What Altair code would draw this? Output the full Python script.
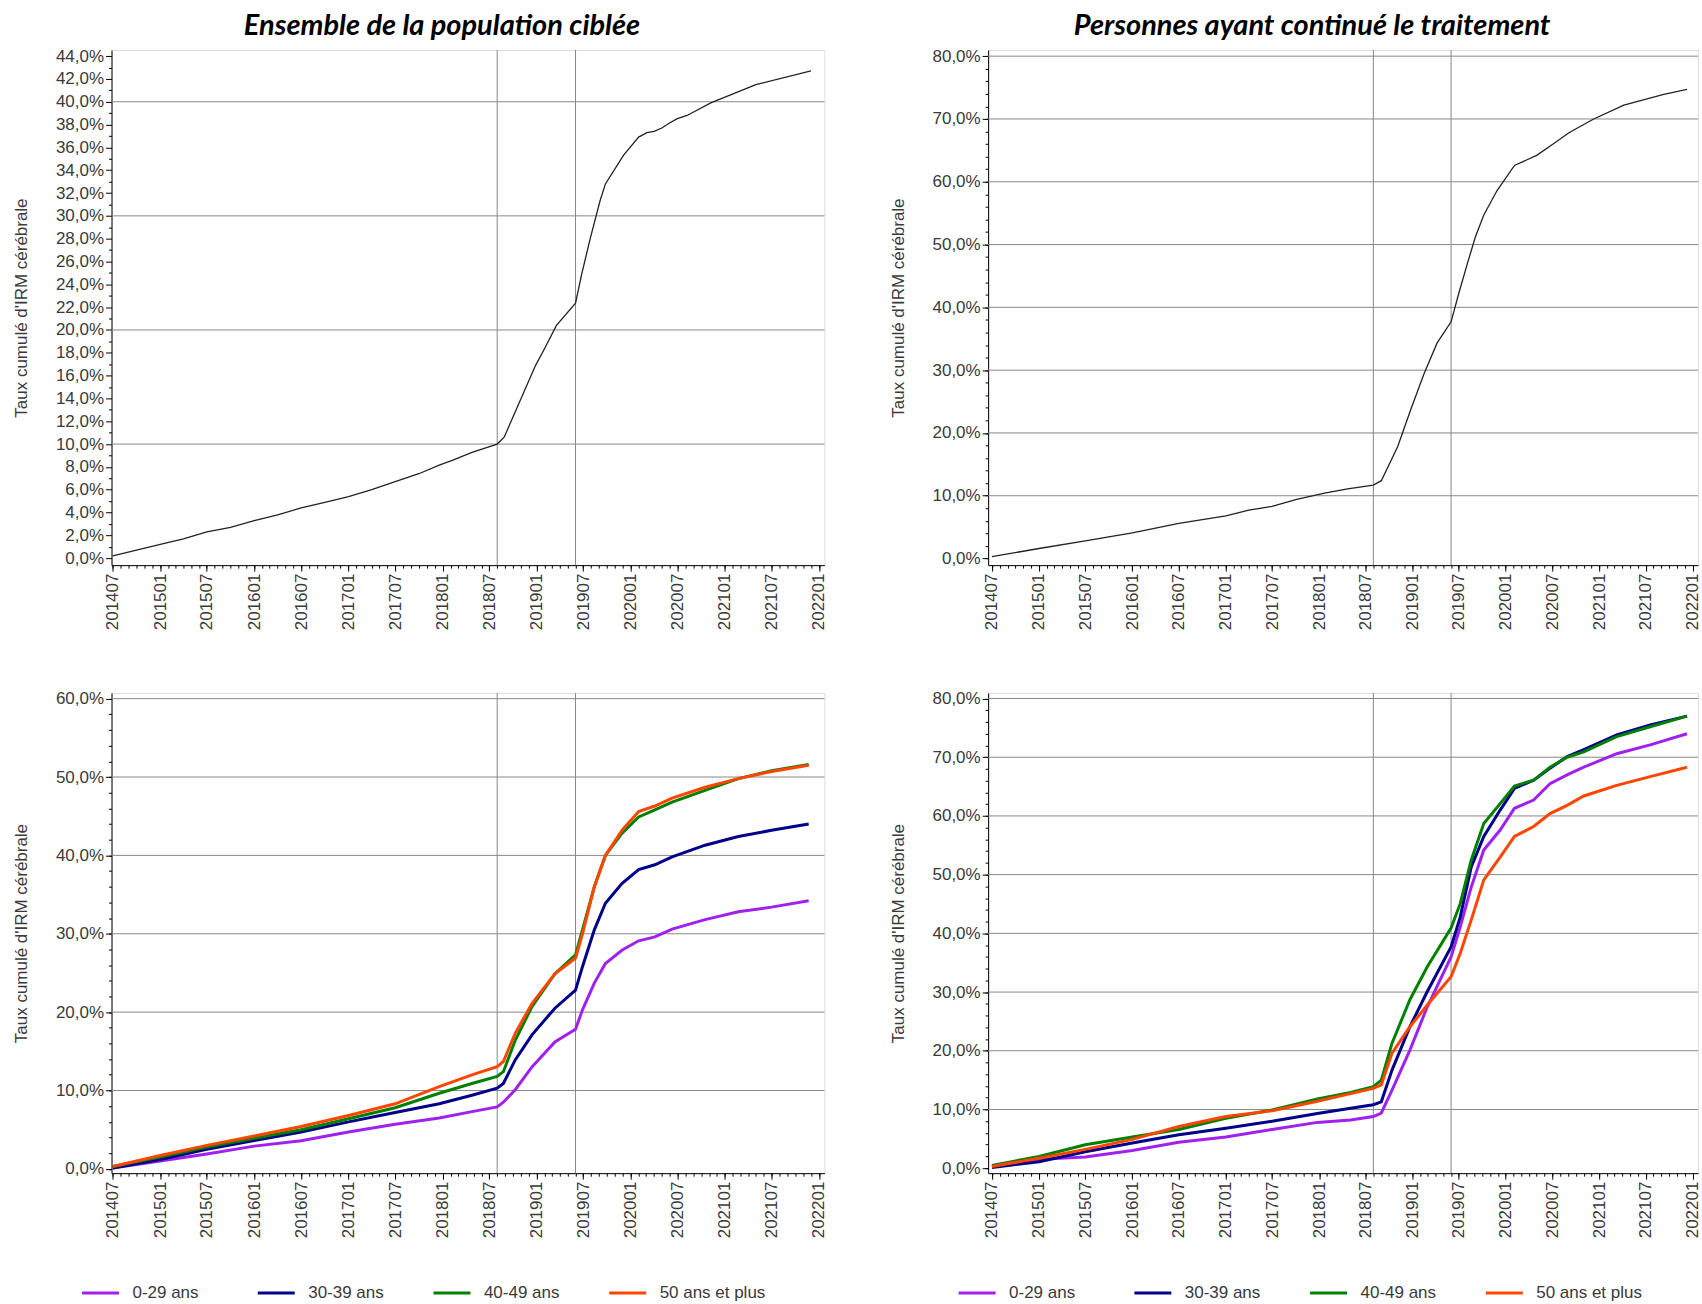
import altair as alt
import pandas as pd

FONT = "Liberation Sans"
TITLE_FONT = "Lato"
TXT = "#3a3a3a"
GRID = "#888888"
AX = "#000000"

AGE_GROUPS = ["0-29 ans", "30-39 ans", "40-49 ans", "50 ans et plus"]
AGE_COLORS = ["#A020F0", "#00008B", "#008000", "#FF4500"]

MARKER_DATES = ["2018-08-01", "2019-06-01"]

X_MAJOR = ["2014-07-01", "2015-01-01", "2015-07-01", "2016-01-01", "2016-07-01",
           "2017-01-01", "2017-07-01", "2018-01-01", "2018-07-01", "2019-01-01",
           "2019-07-01", "2020-01-01", "2020-07-01", "2021-01-01", "2021-07-01",
           "2022-01-01"]

# ---------------- Top-left : Ensemble de la population ciblée ----------------
TL_DATES = ["2014-07-01", "2014-10-01", "2015-01-01", "2015-04-01", "2015-07-01",
            "2015-10-01", "2016-01-01", "2016-04-01", "2016-07-01", "2016-10-01",
            "2017-01-01", "2017-04-01", "2017-07-01", "2017-10-01", "2017-12-19",
            "2018-02-10", "2018-04-25", "2018-08-01", "2018-08-28", "2018-10-25",
            "2018-12-28", "2019-01-28", "2019-03-19", "2019-06-01", "2019-06-25",
            "2019-07-28", "2019-09-04", "2019-09-25", "2019-12-04", "2020-02-01",
            "2020-03-04", "2020-04-01", "2020-05-01", "2020-05-28", "2020-06-28",
            "2020-08-07", "2020-11-07", "2021-05-01", "2021-12-01"]
TL_VALUES = [0.2, 0.7, 1.2, 1.7, 2.3,
             2.7, 3.3, 3.8, 4.4, 4.9,
             5.4, 6.0, 6.7, 7.4, 8.16,
             8.6, 9.27, 10.0, 10.6, 13.6,
             16.9, 18.2, 20.4, 22.35, 24.9,
             28.0, 31.3, 32.8, 35.3, 36.9,
             37.3, 37.4, 37.7, 38.1, 38.5,
             38.8, 39.9, 41.5, 42.7]

# ---------------- Top-right : Personnes ayant continué le traitement ----------------
TR_DATES = ["2014-07-01", "2015-01-01", "2015-07-01", "2016-01-01", "2016-07-01",
            "2017-01-01", "2017-04-01", "2017-07-01", "2017-10-01", "2018-01-22",
            "2018-04-22", "2018-08-01", "2018-09-01", "2018-11-04", "2018-12-25",
            "2019-02-16", "2019-04-07", "2019-06-01", "2019-07-01", "2019-08-04",
            "2019-09-04", "2019-10-07", "2019-11-28", "2020-02-04", "2020-05-01",
            "2020-07-07", "2020-09-04", "2020-12-10", "2021-04-07", "2021-09-10",
            "2021-12-10"]
TR_VALUES = [0.3, 1.6, 2.8, 4.1, 5.6,
             6.8, 7.7, 8.3, 9.4, 10.4,
             11.1, 11.7, 12.4, 17.8, 23.7,
             29.5, 34.3, 37.7, 42.2, 47.0,
             51.2, 54.7, 58.6, 62.6, 64.2,
             66.1, 67.8, 70.0, 72.2, 73.9,
             74.7]

# ---------------- Bottom-left : by age, whole population ----------------
BL_DATES = ["2014-07-01", "2015-01-01", "2015-07-01", "2016-01-01", "2016-07-01",
            "2017-01-01", "2017-07-01", "2017-12-19", "2018-04-25", "2018-08-01",
            "2018-08-25", "2018-10-10", "2018-12-14", "2019-03-13", "2019-06-01",
            "2019-06-28", "2019-08-13", "2019-09-25", "2019-11-28", "2020-02-01",
            "2020-04-04", "2020-06-10", "2020-10-16", "2021-02-22", "2021-07-01",
            "2021-11-22"]
BL_0_29 = [0.1, 1.0, 1.9, 2.9, 3.6, 4.7, 5.7, 6.5, 7.3, 7.9, 8.5, 10.1, 13.0,
           16.2, 17.8, 20.3, 23.7, 26.2, 27.9, 29.1, 29.6, 30.6, 31.8, 32.8, 33.4, 34.2]
BL_30_39 = [0.1, 1.2, 2.5, 3.6, 4.7, 6.0, 7.2, 8.3, 9.4, 10.3, 10.9, 13.9, 17.1,
            20.5, 22.8, 25.8, 30.5, 33.9, 36.4, 38.2, 38.8, 39.8, 41.3, 42.4, 43.2, 44.0]
BL_40_49 = [0.3, 1.5, 2.8, 3.9, 5.0, 6.4, 7.8, 9.65, 10.9, 11.8, 12.4, 16.4, 20.7,
            24.9, 27.3, 30.5, 36.0, 40.0, 42.8, 44.9, 45.8, 46.8, 48.3, 49.8, 50.8, 51.6]
BL_50P = [0.3, 1.7, 3.0, 4.2, 5.4, 6.8, 8.3, 10.5, 12.0, 13.05, 13.7, 17.3, 21.1,
          24.9, 26.9, 30.0, 36.0, 40.0, 43.2, 45.6, 46.3, 47.3, 48.7, 49.8, 50.7, 51.5]

# ---------------- Bottom-right : by age, continued treatment ----------------
BR_DATES = ["2014-07-01", "2015-01-01", "2015-07-01", "2016-01-01", "2016-07-01",
            "2017-01-01", "2017-07-01", "2017-12-25", "2018-05-04", "2018-08-01",
            "2018-09-01", "2018-10-13", "2018-12-22", "2019-02-28", "2019-06-01",
            "2019-07-07", "2019-08-19", "2019-10-07", "2019-12-10", "2020-02-04",
            "2020-04-19", "2020-06-22", "2020-08-28", "2020-11-01", "2021-03-10",
            "2021-07-19", "2021-12-10"]
BR_0_29 = [0.3, 1.5, 1.9, 3.0, 4.4, 5.3, 6.6, 7.8, 8.2, 8.8, 9.4, 13.3, 20.1, 27.5,
           36.0, 41.1, 47.9, 54.2, 57.6, 61.3, 62.7, 65.5, 67.0, 68.3, 70.6, 72.1, 74.0]
BR_30_39 = [0.1, 1.1, 2.8, 4.3, 5.7, 6.8, 8.0, 9.3, 10.2, 10.8, 11.3, 16.7, 24.1, 30.1,
            37.7, 42.8, 51.3, 56.5, 61.0, 64.7, 66.1, 68.1, 70.1, 71.3, 73.8, 75.5, 77.0]
BR_40_49 = [0.45, 2.0, 4.0, 5.3, 6.6, 8.5, 9.9, 11.8, 12.9, 13.9, 15.0, 21.3, 28.7, 34.3,
            40.9, 45.1, 52.5, 58.7, 62.1, 65.1, 66.1, 68.3, 70.0, 70.9, 73.5, 75.2, 77.0]
BR_50P = [0.3, 1.7, 3.2, 4.9, 7.1, 8.8, 9.8, 11.4, 12.7, 13.6, 14.2, 19.6, 24.1, 27.8,
          32.6, 36.6, 42.3, 49.1, 53.0, 56.5, 58.2, 60.4, 61.8, 63.4, 65.2, 66.7, 68.3]


def dt(s):
    y, m, d = (int(p) for p in s.split("-"))
    return alt.DateTime(year=y, month=m, date=d, utc=True)


def monthly_ticks():
    out = []
    for i in range(91):
        k = 2014 * 12 + 6 + i
        out.append(alt.DateTime(year=k // 12, month=k % 12 + 1, date=1, utc=True))
    return out


PCT_EXPR = "replace(format(datum.value, '.1f'), '.', ',') + '%'"
DATE_EXPR = "utcFormat(datum.value, '%Y%m')"
Y_TITLE = "Taux cumulé d'IRM cérébrale"


def long_df(dates, series):
    rows = []
    for name, vals in zip(AGE_GROUPS, series):
        for d, v in zip(dates, vals):
            rows.append({"date": d, "val": v, "age": name})
    return pd.DataFrame(rows)


def panel(df, width, height, x_dom, y_dom, y_major, y_minor, grid_vals,
          title=None, title_dx=0, colored=False):
    xs = alt.Scale(type="utc", domain=[dt(x_dom[0]), dt(x_dom[1])], nice=False)
    ys = alt.Scale(domain=y_dom, nice=False, zero=False)

    hgrid = alt.Chart(pd.DataFrame({"g": grid_vals})).mark_rule(
        color=GRID, strokeWidth=1
    ).encode(
        y=alt.Y("g:Q", scale=ys, axis=alt.Axis(
            orient="left", values=y_minor, labels=False, domain=False,
            grid=False, ticks=True, tickSize=3, tickColor=AX, title=None))
    )
    vlines = alt.Chart(pd.DataFrame({"d": MARKER_DATES})).mark_rule(
        color=GRID, strokeWidth=1
    ).encode(
        x=alt.X("d:T", scale=xs, axis=alt.Axis(
            orient="bottom", values=monthly_ticks(), labels=False, domain=False,
            grid=False, ticks=True, tickSize=3, tickColor=AX, title=None))
    )
    x_axis = alt.Axis(
        orient="bottom", values=[dt(v) for v in X_MAJOR], labelExpr=DATE_EXPR,
        labelAngle=-90, tickSize=6, tickColor=AX,
        domain=True, domainColor=AX, grid=False, labelFont=FONT,
        labelFontSize=17, labelColor=TXT, labelPadding=2, labelFlush=False,
        labelOverlap=False, title=None)
    y_axis = alt.Axis(
        orient="left", values=y_major, labelExpr=PCT_EXPR, grid=False,
        tickSize=6, tickColor=AX, domain=True, domainColor=AX,
        labelFont=FONT, labelFontSize=17, labelColor=TXT, labelPadding=2,
        labelOverlap=False, title=Y_TITLE, titleFont=FONT, titleFontSize=17,
        titleFontWeight="normal", titleColor=TXT, titleX=-90,
        titleBaseline="middle")

    if colored:
        line = alt.Chart(df).mark_line(strokeWidth=3).encode(
            x=alt.X("date:T", scale=xs, axis=x_axis),
            y=alt.Y("val:Q", scale=ys, axis=y_axis),
            color=alt.Color("age:N", scale=alt.Scale(domain=AGE_GROUPS, range=AGE_COLORS),
                            legend=alt.Legend(
                                orient="none", legendX=-31, legendY=581,
                                direction="horizontal", columns=4, gridAlign="all",
                                columnPadding=13, symbolType="stroke",
                                symbolSize=1369, symbolStrokeWidth=3,
                                labelFont=FONT, labelFontSize=17, labelColor=TXT,
                                labelOffset=12, padding=0, title=None,
                                labelLimit=300)),
        )
    else:
        line = alt.Chart(df).mark_line(strokeWidth=1.3, color="#222222").encode(
            x=alt.X("date:T", scale=xs, axis=x_axis),
            y=alt.Y("val:Q", scale=ys, axis=y_axis),
        )

    layer = alt.layer(hgrid, vlines, line).resolve_axis(x="independent", y="independent")
    props = dict(width=width, height=height)
    if title:
        props["title"] = alt.TitleParams(
            text=title, font=TITLE_FONT, fontSize=29, fontWeight="bold",
            fontStyle="italic", color="#000000", anchor="middle", dx=title_dx,
            offset=6)
    return layer.properties(**props)


tl = panel(pd.DataFrame({"date": TL_DATES, "val": TL_VALUES}), 714, 516,
           ["2014-06-26", "2022-01-22"], [-0.61, 44.54],
           list(range(0, 45, 2)), list(range(1, 45, 2)), [10, 20, 30, 40],
           title="Ensemble de la population ciblée", title_dx=-26)
tr = panel(pd.DataFrame({"date": TR_DATES, "val": TR_VALUES}), 711, 516,
           ["2014-06-16", "2022-01-22"], [-1.05, 80.99],
           list(range(0, 81, 10)), list(range(0, 81, 2)),
           [10, 20, 30, 40, 50, 60, 70, 80],
           title="Personnes ayant continué le traitement", title_dx=-31)
bl = panel(long_df(BL_DATES, [BL_0_29, BL_30_39, BL_40_49, BL_50P]), 714, 481,
           ["2014-06-26", "2022-01-22"], [-0.55, 60.73],
           list(range(0, 61, 10)), list(range(0, 61, 2)),
           [10, 20, 30, 40, 50, 60], colored=True)
br = panel(long_df(BR_DATES, [BR_0_29, BR_30_39, BR_40_49, BR_50P]), 711, 481,
           ["2014-06-16", "2022-01-22"], [-0.85, 80.95],
           list(range(0, 81, 10)), list(range(0, 81, 2)),
           [10, 20, 30, 40, 50, 60, 70, 80], colored=True)

chart = alt.concat(
    tl, tr, bl, br, columns=2, bounds="flush",
    spacing={"row": 128, "column": 164},
).resolve_scale(
    x="independent", y="independent", color="independent"
).properties(
    padding={"left": 11.7, "top": 10, "right": 0, "bottom": 0}
).configure_view(
    stroke="#000000", strokeWidth=1
).configure(background="white")

chart.save("out.html", embed_options={"renderer": "svg", "actions": False})
